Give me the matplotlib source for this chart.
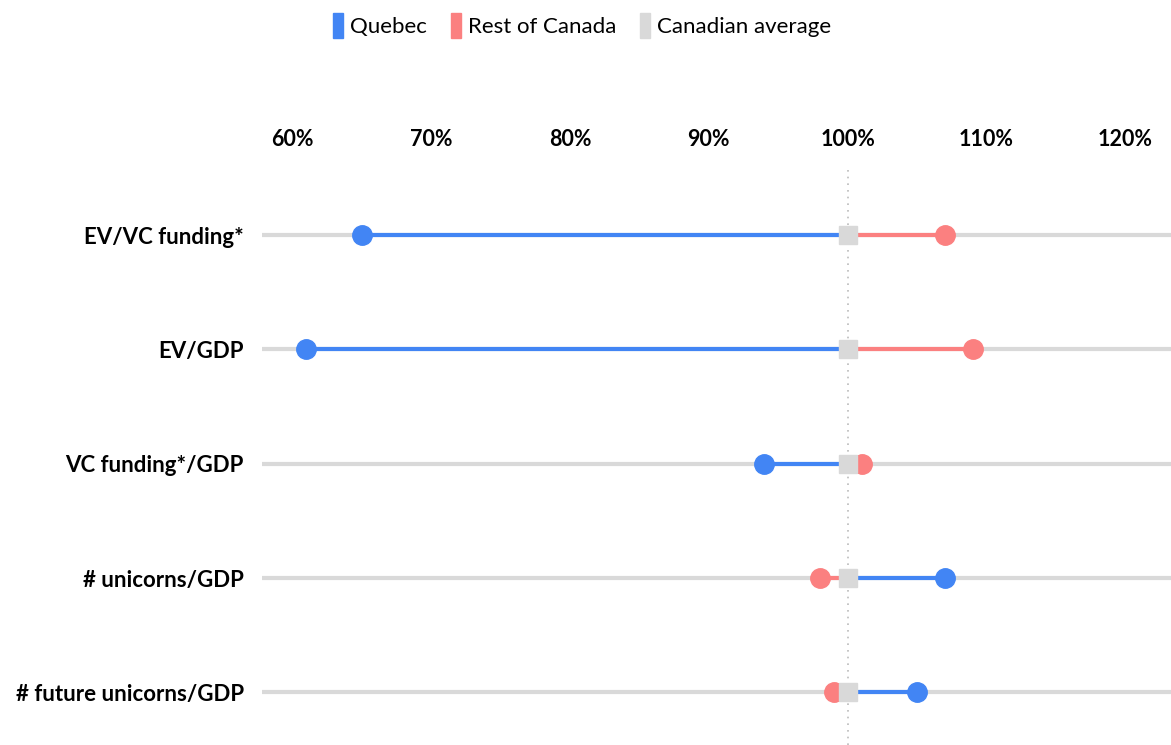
import matplotlib.pyplot as plt
from matplotlib.patches import Patch

plt.rcParams['font.family'] = ['Lato', 'DejaVu Sans']

metrics = ['EV/VC funding*', 'EV/GDP', 'VC funding*/GDP', '# unicorns/GDP', '# future unicorns/GDP']
quebec = [65, 61, 94, 107, 105]
rest_of_canada = [107, 109, 101, 98, 99]
canada_avg = [100, 100, 100, 100, 100]
ticks = [60, 70, 80, 90, 100, 110, 120]

blue = '#4285f4'
red = '#fb8080'
grey = '#d9d9d9'

fig = plt.figure(figsize=(11.71, 7.45), dpi=100)
ax = fig.add_axes([0.2237, 0.0, 0.7763, 0.772])

ax.axvline(100, color='#bbbbbb', linestyle=(0, (1, 3)), linewidth=1.2, zorder=1)

for i, name in enumerate(metrics):
    ax.plot([0, 200], [i, i], color=grey, linewidth=3, zorder=0, solid_capstyle='butt')
    ax.plot([quebec[i], canada_avg[i]], [i, i], color=blue, linewidth=3, zorder=2)
    ax.plot([rest_of_canada[i], canada_avg[i]], [i, i], color=red, linewidth=3, zorder=2)
    ax.plot(quebec[i], i, 'o', color=blue, markersize=14, zorder=3)
    ax.plot(rest_of_canada[i], i, 'o', color=red, markersize=14, zorder=3)
    ax.plot(canada_avg[i], i, 's', color=grey, markersize=13, zorder=4)

ax.set_xlim(57.8, 123.3)
ax.set_ylim(4.46, -0.57)
ax.set_xticks(ticks)
ax.set_xticklabels([f'{t}%' for t in ticks], fontsize=15.5, fontweight='bold')
ax.xaxis.tick_top()
ax.set_yticks(range(len(metrics)))
ax.set_yticklabels(metrics, fontsize=16, fontweight='bold')
ax.tick_params(axis='both', length=0)
ax.tick_params(axis='x', pad=14)
ax.tick_params(axis='y', pad=13)
for s in ax.spines.values():
    s.set_visible(False)

handles = [Patch(color=blue, label='Quebec'),
           Patch(color=red, label='Rest of Canada'),
           Patch(color=grey, label='Canadian average')]
fig.legend(handles=handles, loc='upper center', bbox_to_anchor=(0.497, 1.01), ncol=3,
           frameon=False, fontsize=16, handlelength=0.45, handleheight=1.4,
           handletextpad=0.3, columnspacing=1.1)

fig.savefig('out.png', dpi=100)
